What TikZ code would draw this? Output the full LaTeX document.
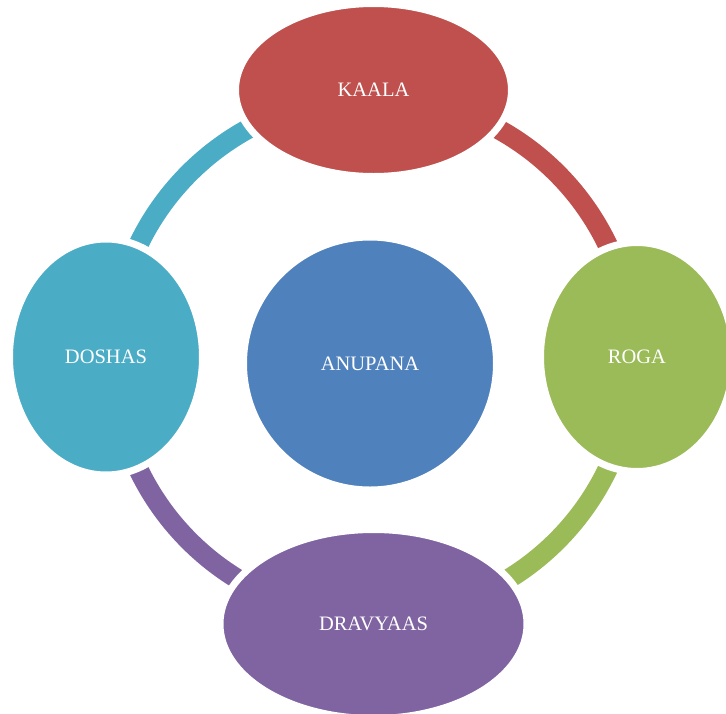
\documentclass[tikz,border=0pt]{standalone}
\usepackage{fontspec}
\setmainfont{Liberation Serif}
\usetikzlibrary{positioning,shapes.geometric}

\definecolor{kaalared}{HTML}{C0504D}
\definecolor{rogagreen}{HTML}{9BBB59}
\definecolor{dravyaaspurple}{HTML}{8064A2}
\definecolor{doshascyan}{HTML}{4BACC6}
\definecolor{anupanablue}{HTML}{4F81BD}

\begin{document}
\begin{tikzpicture}[
        x=1pt, y=1pt,
        blob/.style={
            ellipse,
            draw=white,
            line width=7pt,
            inner sep=0pt,
            text=white,
            font=\fontsize{20.5}{24}\selectfont
        },
        ring/.style={
            line width=20pt
        }
    ]
        \useasboundingbox (0,0) rectangle (726,-713);

        % ring behind the nodes
        \coordinate (hub) at (373,-357);
        \foreach \a/\col in {90/kaalared, 0/rogagreen, -90/dravyaaspurple, 180/doshascyan} {
            \draw[ring, \col] (hub) ++(\a:260pt) arc[start angle=\a, end angle=\a-90, radius=260pt];
        }

        \node[blob, fill=anupanablue, circle, minimum size=253pt] (anupana)  at (370,-363.5) {ANUPANA};
        \node[blob, fill=kaalared, minimum width=276pt, minimum height=173pt]       (kaala)    at (373.5,-90)  {KAALA};
        \node[blob, fill=rogagreen, minimum width=193pt, minimum height=229pt]      (roga)     at (637,-357)   {ROGA};
        \node[blob, fill=dravyaaspurple, minimum width=307pt, minimum height=189pt] (dravyaas) at (373.5,-624) {DRAVYAAS};
        \node[blob, fill=doshascyan, minimum width=193pt, minimum height=236pt]     (doshas)   at (106,-357)   {DOSHAS};
    \end{tikzpicture}
\end{document}
